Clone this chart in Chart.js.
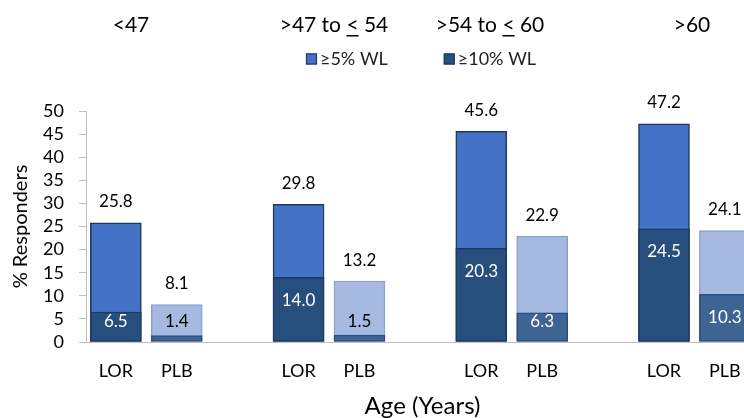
<!DOCTYPE html>
<html>
<head>
<meta charset="utf-8">
<script src="https://cdn.jsdelivr.net/npm/chart.js@4.4.0/dist/chart.umd.min.js"></script>
<style>
  html, body { margin: 0; padding: 0; background: #fff; }
  #wrap { width: 744px; height: 418px; overflow: hidden; }
  canvas { display: block; }
</style>
</head>
<body>
<div id="wrap"><canvas id="chart" width="760" height="418"></canvas></div>
<script>
// age bands and arms
const ageGroups = ['<47', '>47 to ≤ 54', '>54 to ≤ 60', '>60'];
const arms = ['LOR', 'PLB'];

// % responders, >=5% weight loss
const lor5 = [25.8, 29.8, 45.6, 47.2];
const plb5 = [8.1, 13.2, 22.9, 24.1];
// % responders, >=10% weight loss
const lor10 = [6.5, 14.0, 20.3, 24.5];
const plb10 = [1.4, 1.5, 6.3, 10.3];

const seriesLabels = ['≥5% WL', '≥10% WL'];
const yTicks = [0, 5, 10, 15, 20, 25, 30, 35, 40, 45, 50];

// each age band takes three slots on the x scale: LOR, PLB, gap
const slot = (g, a) => g * 3 + a;
const points = (lor, plb) => ageGroups.flatMap((_, g) => [
  { x: slot(g, 0), y: lor[g] },
  { x: slot(g, 1), y: plb[g] }
]);
const perArm = (lorColor, plbColor) => ageGroups.flatMap(() => [lorColor, plbColor]);

Chart.defaults.font.family = 'Lato, "Open Sans", sans-serif';
Chart.defaults.color = '#000';

const headerX = [131, 334, 490, 692];

const headers = {
  id: 'headers',
  afterDraw(chart) {
    const ctx = chart.ctx;
    ctx.save();
    ctx.fillStyle = '#000';
    ctx.textBaseline = 'middle';
    ctx.textAlign = 'left';
    ctx.font = '21px Lato, sans-serif';
    ageGroups.forEach((label, i) => {
      // "≤" is set as an underlined "<"
      const parts = label.split('≤');
      const text = parts.join('<');
      const left = headerX[i] - ctx.measureText(text).width / 2;
      ctx.fillText(text, left, 25);
      if (parts.length > 1) {
        const ux = left + ctx.measureText(parts[0]).width;
        ctx.fillRect(ux, 35, ctx.measureText('<').width, 1.5);
      }
    });

    // legend
    ctx.font = '18px Lato, sans-serif';
    const box = 11, gap = 3, spacing = 56;
    const ds = chart.data.datasets;
    const widths = ds.map(d => box + gap + ctx.measureText(d.label).width);
    const total = widths.reduce((a, b) => a + b, 0) + spacing * (ds.length - 1);
    let x = 421 - total / 2;
    ds.forEach((d, i) => {
      ctx.fillStyle = d.backgroundColor[0];
      ctx.fillRect(x, 53.5, box, box);
      ctx.strokeStyle = '#1F3864';
      ctx.lineWidth = 1.2;
      ctx.strokeRect(x + 0.5, 54, box - 1, box - 1);
      ctx.fillStyle = '#222';
      ctx.fillText(d.label, x + box + gap, 59.5);
      x += widths[i] + spacing;
    });
    ctx.restore();
  }
};

const valueLabels = {
  id: 'valueLabels',
  afterDatasetsDraw(chart) {
    const ctx = chart.ctx;
    const outer = chart.getDatasetMeta(0);
    const inner = chart.getDatasetMeta(1);
    ctx.save();
    ctx.font = '17px Lato, sans-serif';
    ctx.textAlign = 'center';
    ctx.textBaseline = 'middle';
    outer.data.forEach((bar, i) => {
      ctx.fillStyle = '#000';
      ctx.fillText(chart.data.datasets[0].data[i].y.toFixed(1), bar.x, bar.y - 21);
    });
    inner.data.forEach((bar, i) => {
      const h = bar.base - bar.y;
      ctx.fillStyle = h > 22 ? '#fff' : '#000';
      ctx.fillText(chart.data.datasets[1].data[i].y.toFixed(1), bar.x, Math.min(bar.y + 23, bar.base - 20));
    });
    ctx.restore();
  }
};

new Chart(document.getElementById('chart'), {
  type: 'bar',
  data: {
    datasets: [
      {
        label: seriesLabels[0],
        data: points(lor5, plb5),
        backgroundColor: perArm('#4472C4', '#A6B9E1'),
        borderColor: perArm('#1F3864', '#8CA1CC'),
        borderWidth: 1.5,
        borderSkipped: false,
        grouped: false,
        barThickness: 51,
        order: 2
      },
      {
        label: seriesLabels[1],
        data: points(lor10, plb10),
        backgroundColor: perArm('#264F7D', '#3D6493'),
        borderColor: perArm('#1F3864', '#2C4E80'),
        borderWidth: 1.5,
        borderSkipped: false,
        grouped: false,
        barThickness: 51,
        order: 1
      }
    ]
  },
  options: {
    responsive: false,
    animation: false,
    devicePixelRatio: 1,
    layout: { padding: { top: 111, left: 0, right: 1, bottom: 0 } },
    plugins: {
      legend: { display: false },
      tooltip: { enabled: false }
    },
    scales: {
      x: {
        type: 'linear',
        offset: false,
        min: -0.49,
        max: 10.56,
        afterBuildTicks: scale => {
          scale.ticks = ageGroups.flatMap((_, g) => arms.map((_, a) => ({ value: slot(g, a) })));
        },
        afterFit: scale => { scale.height = 76; },
        ticks: {
          callback: (value, index) => arms[index % arms.length],
          font: { size: 18 },
          padding: 18,
          maxRotation: 0,
          autoSkip: false
        },
        grid: { display: false, drawTicks: false },
        border: { color: '#BFBFBF', width: 1 },
        title: {
          display: true,
          text: 'Age (Years)',
          font: { size: 24, lineHeight: 1 },
          padding: { top: 14, bottom: 0 }
        }
      },
      y: {
        min: 0,
        max: 50,
        afterBuildTicks: scale => {
          scale.ticks = yTicks.map(v => ({ value: v }));
        },
        afterFit: scale => { scale.width = 86; },
        ticks: { font: { size: 18 }, padding: 15, autoSkip: false },
        grid: { drawOnChartArea: false, tickLength: 7, color: '#BFBFBF' },
        border: { color: '#BFBFBF', width: 1 },
        title: {
          display: true,
          text: '% Responders',
          font: { size: 20 },
          padding: { top: 9, bottom: 10 }
        }
      }
    }
  },
  plugins: [headers, valueLabels]
});
</script>
</body>
</html>
